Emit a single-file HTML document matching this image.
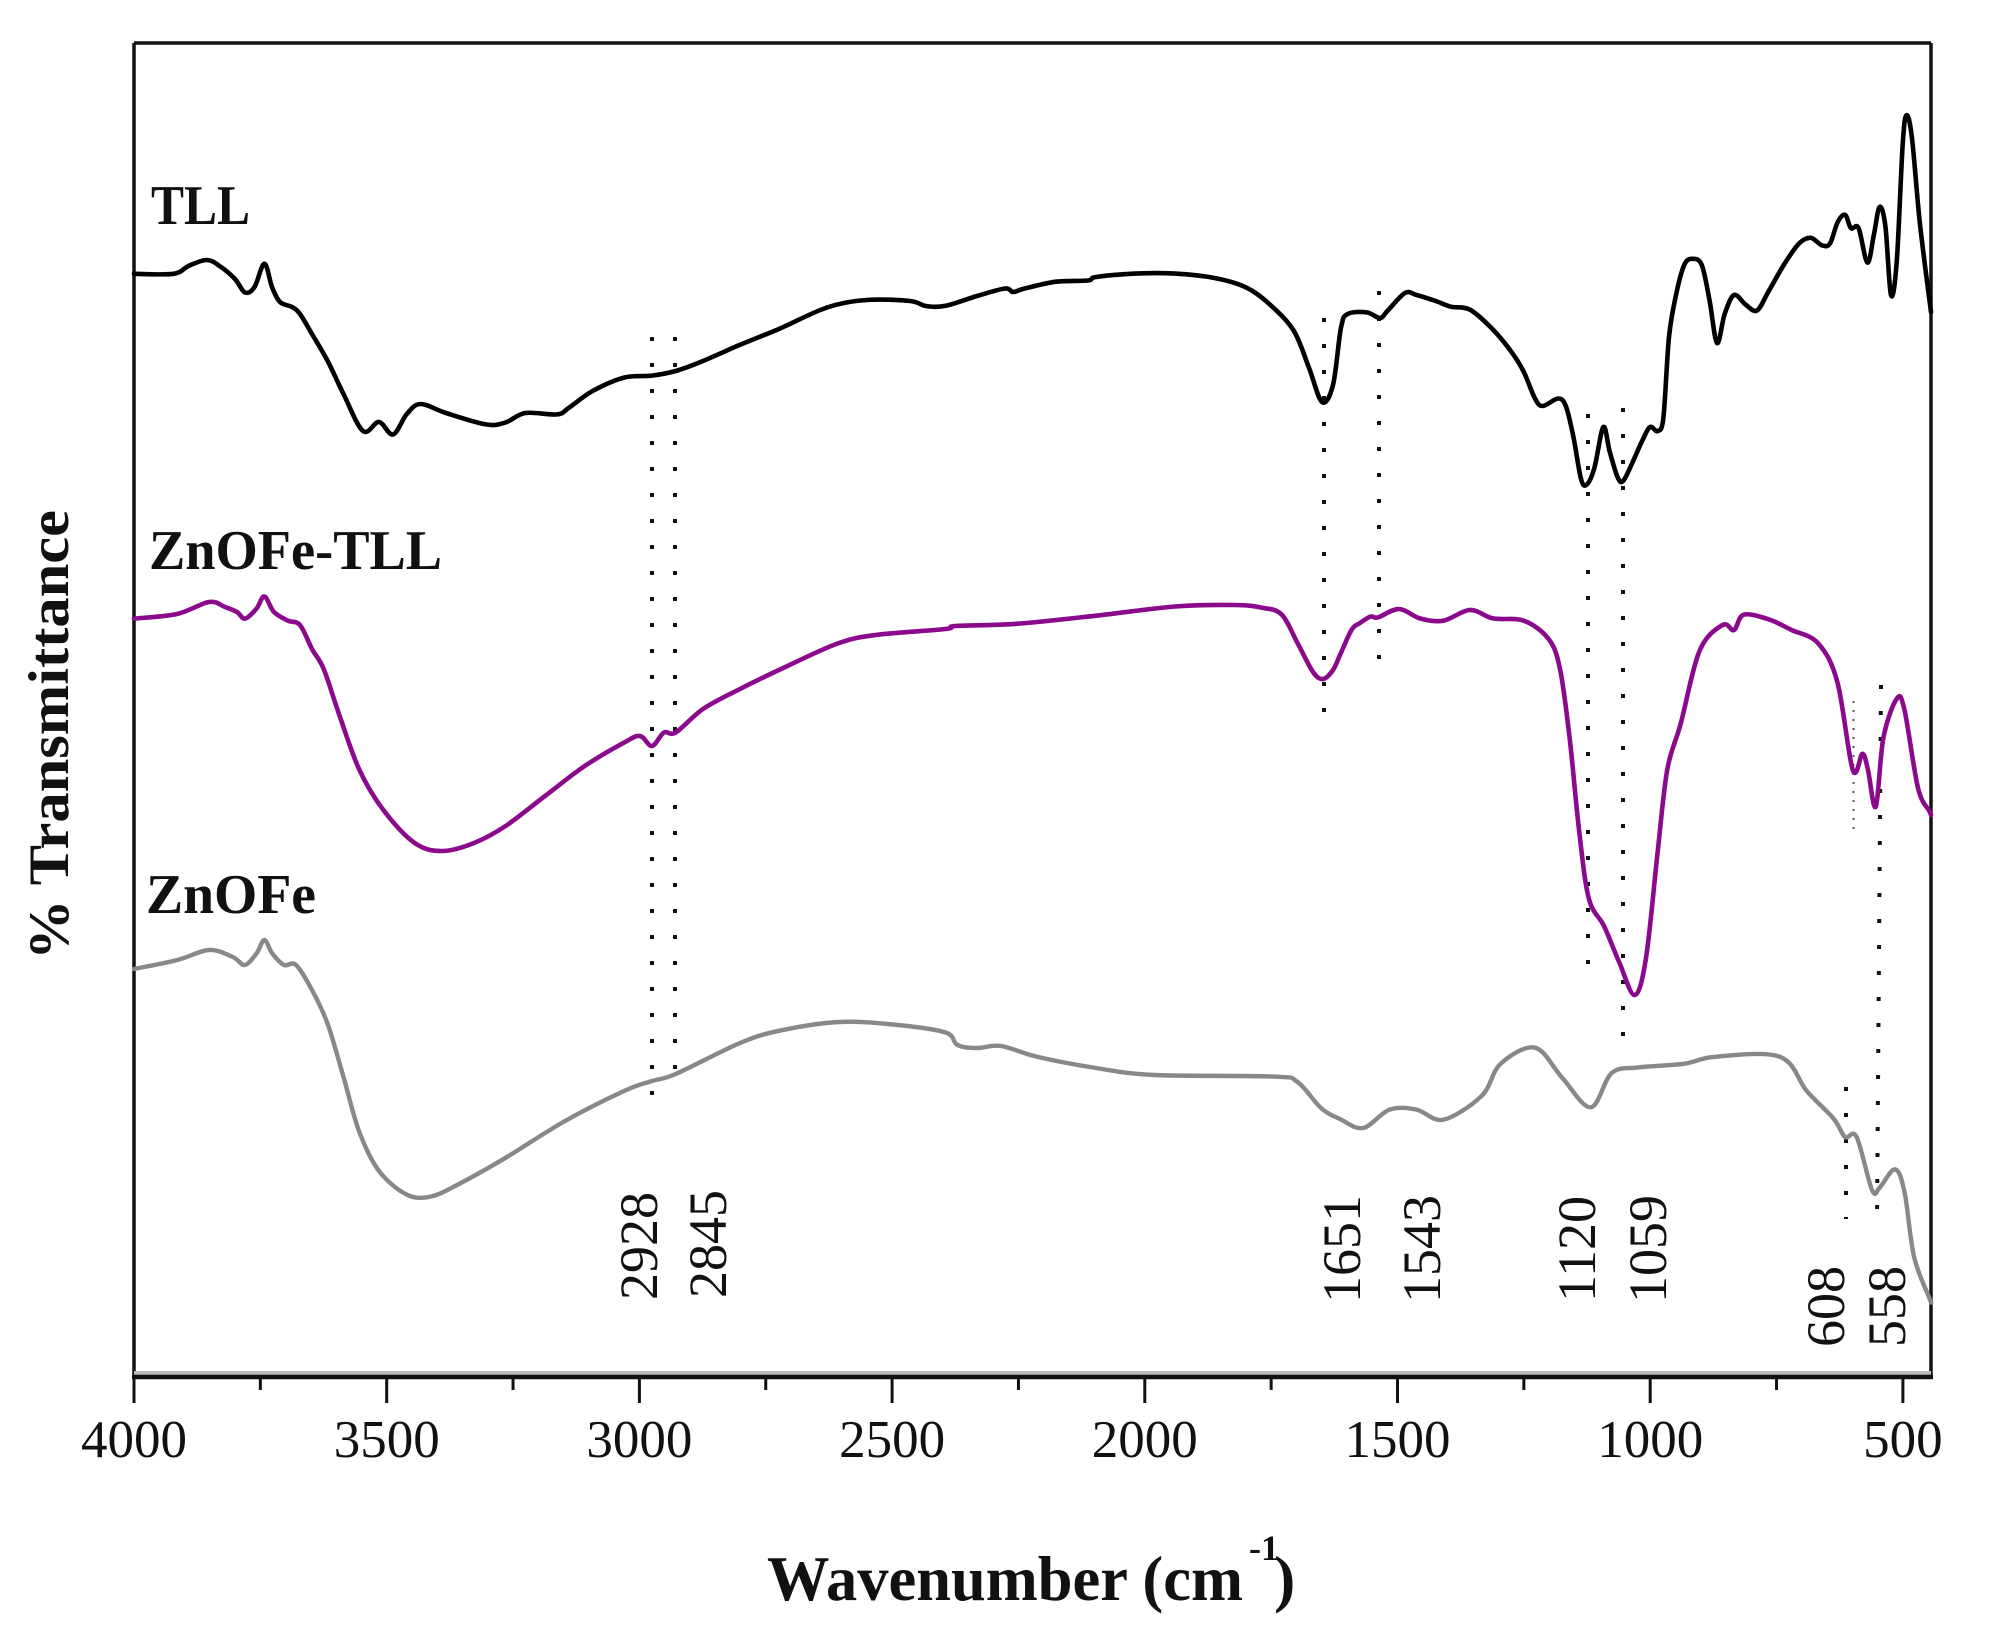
<!DOCTYPE html>
<html>
<head>
<meta charset="utf-8">
<style>
html,body{margin:0;padding:0;background:#fff;}
svg{display:block;}
text{font-family:"Liberation Serif",serif;fill:#111;}
</style>
</head>
<body>
<svg id="chart" width="1989" height="1633" viewBox="0 0 1989 1633" xmlns="http://www.w3.org/2000/svg">
<rect x="0" y="0" width="1989" height="1633" fill="#fff"/>

<!-- frame -->
<line x1="134" y1="43" x2="1931" y2="43" stroke="#111" stroke-width="3.5"/>
<line x1="1931" y1="43" x2="1931" y2="1377" stroke="#111" stroke-width="3.5"/>
<line x1="134" y1="43" x2="134" y2="1379" stroke="#111" stroke-width="3.5"/>
<rect x="134" y="1371" width="1797" height="4" fill="#bbb"/>
<line x1="132" y1="1377" x2="1933" y2="1377" stroke="#111" stroke-width="4.5"/>

<!-- ticks -->
<g stroke="#111" stroke-width="3">
<line x1="134" y1="1377" x2="134" y2="1403"/>
<line x1="386.7" y1="1377" x2="386.7" y2="1403"/>
<line x1="639.4" y1="1377" x2="639.4" y2="1403"/>
<line x1="892.1" y1="1377" x2="892.1" y2="1403"/>
<line x1="1144.8" y1="1377" x2="1144.8" y2="1403"/>
<line x1="1397.5" y1="1377" x2="1397.5" y2="1403"/>
<line x1="1650.2" y1="1377" x2="1650.2" y2="1403"/>
<line x1="1902.9" y1="1377" x2="1902.9" y2="1403"/>
<line x1="260.35" y1="1377" x2="260.35" y2="1390"/>
<line x1="513.05" y1="1377" x2="513.05" y2="1390"/>
<line x1="765.75" y1="1377" x2="765.75" y2="1390"/>
<line x1="1018.45" y1="1377" x2="1018.45" y2="1390"/>
<line x1="1271.15" y1="1377" x2="1271.15" y2="1390"/>
<line x1="1523.85" y1="1377" x2="1523.85" y2="1390"/>
<line x1="1776.55" y1="1377" x2="1776.55" y2="1390"/>
</g>

<!-- tick labels -->
<g font-size="53" text-anchor="middle">
<text x="134" y="1457">4000</text>
<text x="386.7" y="1457">3500</text>
<text x="639.4" y="1457">3000</text>
<text x="892.1" y="1457">2500</text>
<text x="1144.8" y="1457">2000</text>
<text x="1397.5" y="1457">1500</text>
<text x="1650.2" y="1457">1000</text>
<text x="1902.9" y="1457">500</text>
</g>

<!-- axis titles -->
<text x="767" y="1600" font-size="64" font-weight="bold" textLength="476" lengthAdjust="spacingAndGlyphs">Wavenumber (cm</text>
<text x="1249" y="1560" font-size="36" font-weight="bold">-1</text>
<text x="1274" y="1600" font-size="64" font-weight="bold">)</text>

<text transform="translate(68,735) rotate(-90)" text-anchor="middle" font-size="57" font-weight="bold" textLength="450" lengthAdjust="spacingAndGlyphs">% Transmittance</text>

<!-- series labels -->
<text x="151" y="224" font-size="56" font-weight="bold" textLength="99" lengthAdjust="spacingAndGlyphs">TLL</text>
<text x="149" y="569" font-size="56" font-weight="bold" textLength="293" lengthAdjust="spacingAndGlyphs">ZnOFe-TLL</text>
<text x="146" y="913" font-size="56" font-weight="bold" textLength="170" lengthAdjust="spacingAndGlyphs">ZnOFe</text>

<!-- dotted guide lines -->
<g stroke="#111" stroke-width="4" stroke-dasharray="4 22" fill="none">
<line x1="652" y1="337" x2="652" y2="1116"/>
<line x1="675" y1="337" x2="675" y2="1078"/>
<line x1="1324" y1="318" x2="1324" y2="717"/>
<line x1="1379" y1="291" x2="1379" y2="661"/>
<line x1="1588" y1="414" x2="1588" y2="968"/>
<line x1="1623" y1="408" x2="1623" y2="1039"/>
<line x1="1846" y1="1087" x2="1846" y2="1219"/>
<line x1="1881" y1="685" x2="1877" y2="1221"/>
</g>
<line x1="1853.5" y1="701" x2="1853.5" y2="831" stroke="#555" stroke-width="2" stroke-dasharray="2 7"/>

<!-- TLL -->
<polyline class="spec" fill="none" stroke="#000" stroke-width="4.6" stroke-linejoin="round" stroke-linecap="round" points="
134,273.8 173.5,273.8 189,265.7 207,260 221,267 235,279 245,292.5 254.5,287 264.4,263.7 272,287 280,302 292,307 300,314 312,334 327.7,361 343.5,394 363,431 379,422 393,434.5 406.8,414 420.6,404 446,413 486,424.4 505.6,422.4 525.4,413 557,414.4 569,407.7 592.6,391 624,377.6 652,375.6 675.7,371 703,361 740,344.8 779.5,328.7 827,307.5 866.5,300 910,301 925.8,306 945.6,305.8 977,296 1005,288.5 1013,292 1024.7,288.5 1056,281.7 1088,280.5 1096,277 1135,273.6 1175,273.6 1214.5,278 1246,287.4 1270,304.6 1293.6,330.5 1309,367.8 1322,402 1333,385 1341,327.6 1347.7,314 1366.8,312.4 1380,318 1387.8,310.5 1405,293 1416.5,295 1435.7,301 1451,306.7 1470,309.7 1493,329.6 1512,352.6 1523.7,371.7 1535,398.5 1542.8,406 1558,398.5 1565.8,406 1573.4,436.8 1581,478.9 1586.8,484.6 1594.5,467.4 1603.3,427 1609.8,452 1617.5,477 1623.2,480.8 1632.8,461.7 1642.3,440.6 1650,427 1657.6,431 1663.4,417.6 1669,337 1676.8,291.3 1684.4,264.6 1692,258.8 1701.6,264.6 1709.3,299 1717,343 1724.6,314.3 1734,295 1745.7,304.7 1757,310.5 1768.6,291.3 1784,264.6 1799,243.5 1810.7,237.8 1822,245.4 1830,243.5 1837.5,222.5 1845,214.8 1851,228.2 1858.6,228.2 1867.4,262.6 1874,234 1879.6,207 1885.4,226.3 1891,295.2 1896.8,260.7 1902.6,146 1906.4,115.3 1912,138.3 1919.8,222.5 1929.3,299 1931,312"/>

<!-- ZnOFe-TLL -->
<polyline class="spec" fill="none" stroke="#8b0a8b" stroke-width="4.6" stroke-linejoin="round" stroke-linecap="round" points="
134,618.6 177,614 209,602 225,607 237,612 245,618.6 256.5,608.6 264.4,596.5 274,612 288,620.7 300,625 312,649 323.7,669 339.6,715.8 359,769 383,809.5 414.7,843 442.4,851 474,843 505.6,826 545,796 584.7,766 624,742.6 640,736 652,746 664,732.5 675.7,732.5 703,709 740,689 787.4,666 839,643 878,634.7 945.6,629 955.5,626 1016.8,623.8 1096,615.7 1175,606.5 1234,605 1262,607.7 1281.7,614.6 1297.5,643 1313,672 1323,679 1333,670 1340,655 1351.5,630 1360,623 1370.6,616.6 1378,617.4 1399,609 1420,618.4 1443.3,620.7 1470,610 1493,618.4 1523.7,620.7 1548.6,639 1560,669 1569.6,737.7 1579,829.6 1588.8,898.4 1604,926 1619.4,962.7 1634.7,995 1646,958 1657.6,852.5 1667.2,770 1680.6,724 1699.7,650.5 1722.7,625 1734,630 1743.7,614.7 1768.6,619.3 1791.6,630 1818.4,643.6 1837.5,682.6 1852.8,770 1862.4,753.8 1868,770 1875.8,806.6 1883.4,737.7 1896.8,698.7 1904.5,710 1918,788 1929.3,811 1931,815"/>

<!-- ZnOFe -->
<polyline class="spec" fill="none" stroke="#888" stroke-width="4.4" stroke-linejoin="round" stroke-linecap="round" points="
134,969 177.4,960 209,950 232.8,957 244.7,965 256.5,953.5 264.4,940 272.3,953.5 284,965 296,965 312,990 327.7,1024 343.5,1077 359,1131 379,1171 406.8,1194.6 430.5,1196.6 458,1184.5 505.6,1157.8 565,1121 624,1091 652,1081 675.7,1074 740,1043 779.5,1030.7 839,1022 898,1025 945.6,1032.5 957.5,1045 977,1048 1001,1046 1036.5,1056.6 1096,1068 1155,1075 1274,1076.6 1297.5,1082 1321,1108 1340,1119 1363,1128 1389.7,1109.6 1416.5,1109.6 1443.3,1119.7 1481.6,1095.9 1500.7,1063.7 1535,1047.7 1562,1077.5 1590.7,1107.3 1611.7,1073 1638.5,1067.4 1684.4,1063.7 1715,1056.8 1780,1056.8 1807,1091.3 1833.7,1118.8 1845,1137 1856.6,1137 1872,1190 1879.6,1187.7 1895,1169.3 1904.5,1192 1914,1256.6 1929.3,1297.9 1931,1302"/>

<!-- peak labels -->
<g font-size="54">
<text transform="translate(657,1300) rotate(-90)">2928</text>
<text transform="translate(726,1298) rotate(-90)">2845</text>
<text transform="translate(1360,1303) rotate(-90)">1651</text>
<text transform="translate(1440,1303) rotate(-90)">1543</text>
<text transform="translate(1595,1302) rotate(-90)">1120</text>
<text transform="translate(1666,1303) rotate(-90)">1059</text>
<text transform="translate(1844,1347) rotate(-90)">608</text>
<text transform="translate(1905,1347) rotate(-90)">558</text>
</g>
</svg>
<script>
(function(){
  var NS="http://www.w3.org/2000/svg";
  var pls=document.querySelectorAll("polyline.spec");
  for(var k=0;k<pls.length;k++){
    var pl=pls[k];
    var raw=pl.getAttribute("points").trim().split(/\s+/);
    var p=[];
    for(var i=0;i<raw.length;i++){var a=raw[i].split(",");p.push([+a[0],+a[1]]);}
    var d="M"+p[0][0]+","+p[0][1];
    var t=0.5;
    for(var i=0;i<p.length-1;i++){
      var p0=p[i>0?i-1:i],p1=p[i],p2=p[i+1],p3=p[i+2<p.length?i+2:i+1];
      var c1x=p1[0]+(p2[0]-p0[0])/6*t*2, c1y=p1[1]+(p2[1]-p0[1])/6*t*2;
      var c2x=p2[0]-(p3[0]-p1[0])/6*t*2, c2y=p2[1]-(p3[1]-p1[1])/6*t*2;
      d+=" C"+c1x.toFixed(1)+","+c1y.toFixed(1)+" "+c2x.toFixed(1)+","+c2y.toFixed(1)+" "+p2[0]+","+p2[1];
    }
    var path=document.createElementNS(NS,"path");
    path.setAttribute("d",d);
    ["fill","stroke","stroke-width","stroke-linejoin","stroke-linecap"].forEach(function(n){path.setAttribute(n,pl.getAttribute(n));});
    pl.parentNode.replaceChild(path,pl);
  }
})();
</script>
</body>
</html>
